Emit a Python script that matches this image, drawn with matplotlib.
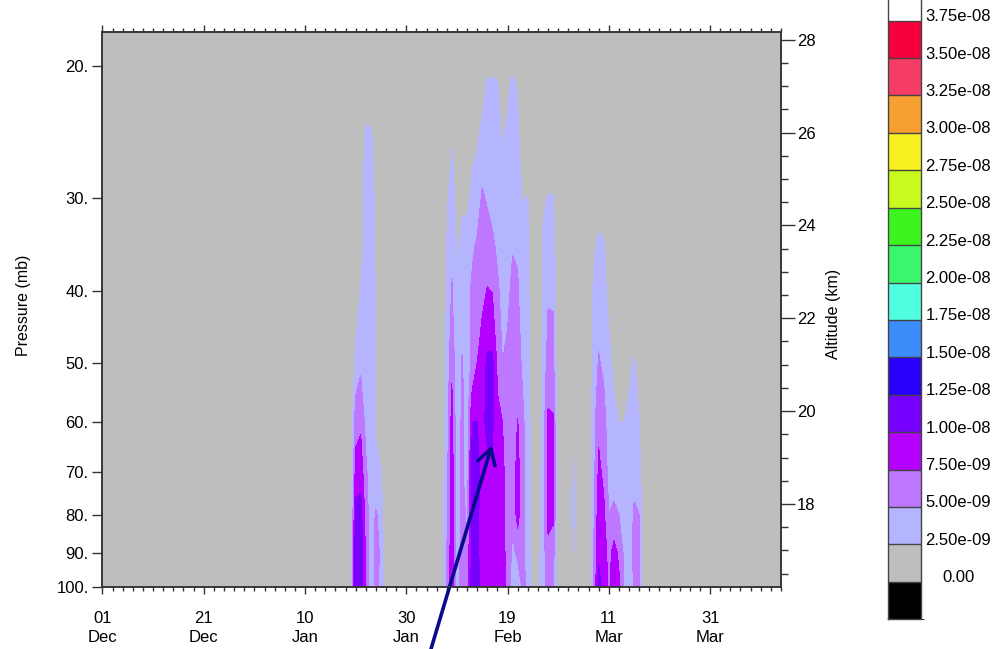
import numpy as np
import matplotlib
matplotlib.use('Agg')
import matplotlib.pyplot as plt
from matplotlib.colors import ListedColormap, BoundaryNorm
from matplotlib.ticker import FixedLocator, MultipleLocator, NullLocator
import matplotlib.transforms as mtransforms

plt.rcParams['font.family'] = ['Liberation Sans', 'DejaVu Sans']

# pressure levels (mb) for every profile below, surface side first
plev = [100, 90, 80, 70, 60, 50, 40, 35, 30, 25, 21, 18]

# values in units of 1e-9, one profile per day (days since 01 Dec)
jan_days = [50, 51, 52, 53, 54, 55]
jan_vals = [
    [11.5, 12, 11, 8.5, 6.5, 3.2, 1.0, 0.5, 0, 0, 0, 0],
    [12, 12, 11, 9, 7, 4.5, 2.6, 1.0, 1.0, 0.8, 0, 0],
    [7, 7, 6.5, 5.5, 4.2, 4, 4, 4, 3.8, 3.2, 0.5, 0],
    [2.5, 2.8, 3.5, 3.5, 3.6, 3.6, 3.6, 3.6, 3.5, 3.0, 0.5, 0],
    [5.5, 6, 5.3, 2.9, 2.3, 2.3, 2.3, 2.2, 2, 1, 0, 0],
    [4.5, 4.5, 4, 2.6, 1, 0, 0, 0, 0, 0, 0, 0],
]

feb_days = list(range(67, 94))
feb_vals = [
    [1.5, 1.5, 1.5, 1.2, 1, 0.8, 0.5, 0, 0, 0, 0, 0],
    [5.5, 5, 4.5, 4, 3.5, 3, 2.8, 2.6, 2, 1, 0, 0],
    [9, 9, 9, 9, 8.5, 7, 5.2, 4.5, 3.8, 2.3, 0, 0],
    [4, 3.5, 3, 3, 3, 3, 2.8, 2.2, 1.5, 0.5, 0, 0],
    [6, 6, 6, 5.5, 5.5, 5.2, 3.5, 3, 2.2, 0.5, 0, 0],
    [6, 5.5, 4.5, 3.5, 3.8, 4, 4, 3.5, 2.0, 1, 0, 0],
    [11.5, 11, 11, 10.5, 10, 5.5, 5.5, 4.5, 3.0, 2.0, 0, 0],
    [11, 10.5, 10.5, 10.5, 10, 7.5, 6.5, 5.5, 3.5, 2.2, 0.5, 0],
    [9, 9, 9, 9.5, 9.5, 8.5, 7, 6, 5.4, 3.2, 1.5, 0],
    [9, 9, 9, 9.5, 10.5, 10.5, 7.6, 6.5, 4.6, 3.5, 2.7, 0],
    [9, 9, 9, 9.5, 10.5, 10.5, 7.4, 5.6, 4.0, 3.5, 2.8, 0],
    [9, 8.5, 8.5, 8.5, 8, 7, 5.5, 4.5, 3.5, 3, 2.6, 0],
    [8.5, 8.5, 8, 8, 7.5, 5, 4, 3.5, 3, 2.4, 1, 0],
    [6.5, 6.5, 6.5, 6.5, 6.5, 5.5, 4.5, 3.8, 3.2, 2.8, 2.2, 0],
    [3.5, 4.5, 5.5, 6, 6, 6, 5.5, 4.9, 4, 3.2, 2.8, 0.5],
    [3.2, 5.5, 8.5, 8.5, 7.6, 6, 5.2, 4.8, 3.5, 3, 2.3, 0],
    [5.5, 5.5, 5.5, 5.5, 5.5, 4.5, 3.8, 3.5, 2.3, 1, 0, 0],
    [4.5, 4.2, 4, 3.8, 3.5, 3.2, 3, 2.8, 2.6, 0.5, 0, 0],
    [1.5, 1.5, 1.5, 1.5, 1.2, 1, 0.8, 0.5, 0, 0, 0, 0],
    [1.5, 1.5, 1.2, 1, 0.5, 0, 0, 0, 0, 0, 0, 0],
    [4, 4, 3.5, 3.5, 3.5, 3.2, 3, 2.8, 2.2, 0, 0, 0],
    [6, 6.5, 8.5, 8.5, 8, 6, 4.7, 4, 2.6, 0.5, 0, 0],
    [5.5, 6, 8, 8, 7.8, 5.8, 4.7, 3.8, 2.6, 0.5, 0, 0],
    [0.5, 0.5, 0.5, 0.5, 0.3, 0, 0, 0, 0, 0, 0, 0],
    [0, 0, 0, 0, 0, 0, 0, 0, 0, 0, 0, 0],
    [0, 1, 1.5, 1.5, 1, 0, 0, 0, 0, 0, 0, 0],
    [0, 2.6, 3.0, 2.8, 1.5, 0, 0, 0, 0, 0, 0, 0],
]

mar_days = list(range(97, 107))
mar_vals = [
    [5, 5, 4.5, 4, 4, 3.5, 3, 2, 0, 0, 0, 0],
    [11, 9.5, 9, 8, 7, 5.2, 4, 3.2, 1.0, 0, 0, 0],
    [9, 9, 8, 7, 6, 4.5, 3.5, 3.0, 0.5, 0, 0, 0],
    [7, 6.5, 5, 4, 3.5, 3.5, 1.5, 0.5, 0, 0, 0, 0],
    [9, 8.5, 5.5, 4, 3.5, 1.5, 0.5, 0, 0, 0, 0, 0],
    [8, 7, 5, 3.5, 2.5, 1, 0, 0, 0, 0, 0, 0],
    [4.5, 4.5, 3.5, 3, 2.5, 1.5, 0.5, 0, 0, 0, 0, 0],
    [2.3, 2.8, 3, 3.2, 3, 2.0, 0.3, 0, 0, 0, 0, 0],
    [5.5, 6, 5.5, 4, 3.5, 2.7, 0.3, 0, 0, 0, 0, 0],
    [5, 5.5, 5, 3.5, 2.6, 1.5, 0, 0, 0, 0, 0, 0],
]

# colour bar: black (<0), then 15 bands from 0 to 3.75e-08, white above
cbar_colors = ['#000000', '#bebebe', '#b4b4ff', '#be78ff', '#b400ff', '#7800ff',
               '#2800fa', '#3c8cfa', '#50ffe0', '#3cf56e', '#3cf51e', '#c8fa1e',
               '#f8f020', '#f5a030', '#f53c64', '#f5003c', '#ffffff']
cbar_ticks = [0, 2.5, 5, 7.5, 10, 12.5, 15, 17.5, 20, 22.5, 25, 27.5,
              30, 32.5, 35, 37.5]

xtick_days = [0, 20, 40, 60, 80, 100, 120]
xtick_labels = ['01\nDec', '21\nDec', '10\nJan', '30\nJan', '19\nFeb',
                '11\nMar', '31\nMar']
ptick = [20, 30, 40, 50, 60, 70, 80, 90, 100]
ztick = [18, 20, 22, 24, 26, 28]
zlim = (16.21, 28.16)
arrow_tip = (76.9, 64.5)   # day, mb

# build the grid
ndays = 135
days = np.arange(ndays)
field = np.zeros((len(plev), ndays))
for dd, vv in [(jan_days, jan_vals), (feb_days, feb_vals), (mar_days, mar_vals)]:
    for d, v in zip(dd, vv):
        field[:, d] = v
field = field[::-1] * 1e-9
pgrid = np.array(plev[::-1], dtype=float)

fs = 12
fig = plt.figure(figsize=(9.94, 6.49), dpi=100)
ax = fig.add_axes([0.1031, 0.0955, 0.6826, 0.8547])

levels = np.array(cbar_ticks) * 1e-9
ax.contourf(days, pgrid, field, levels=levels, colors=cbar_colors[1:-1])

ax.set_yscale('log')
ax.set_ylim(100, 18)
ax.set_xlim(0, 134)

ax.yaxis.set_major_locator(FixedLocator(ptick))
ax.yaxis.set_minor_locator(NullLocator())
ax.set_yticklabels(['%d.' % p for p in ptick])
ax.set_xticks(xtick_days)
ax.set_xticklabels(xtick_labels, linespacing=1.4)
ax.xaxis.set_minor_locator(MultipleLocator(2))

ax.tick_params(axis='y', which='major', direction='out', length=7, width=1,
               labelsize=fs, pad=3, color='#333333')
ax.tick_params(axis='x', which='both', direction='out', top=True, width=1,
               color='#333333')
ax.tick_params(axis='x', which='major', length=5, labelsize=fs, pad=12)
ax.tick_params(axis='x', which='minor', length=3)
for s in ax.spines.values():
    s.set_linewidth(1.1)
    s.set_color('#333333')

ax.set_ylabel('Pressure (mb)', fontsize=11.5)
ax.yaxis.set_label_coords(-0.106, 0.507)

ax2 = ax.twinx()
ax2.set_ylim(*zlim)
ax2.yaxis.set_major_locator(FixedLocator(ztick))
ax2.yaxis.set_minor_locator(MultipleLocator(0.5))
ax2.tick_params(axis='y', which='major', direction='out', length=10, width=1,
                labelsize=fs, pad=1.5, color='#333333')
ax2.tick_params(axis='y', which='minor', direction='out', length=5, width=1,
                color='#333333')
for s in ax2.spines.values():
    s.set_linewidth(1.1)
    s.set_color('#333333')
ax2.set_ylabel('Altitude (km)', fontsize=11.5)
ax2.yaxis.set_label_coords(1.0663, 0.492)

# colour bar
cax = fig.add_axes([0.8937, 0.0458, 0.0332, 0.980])
bounds = np.arange(-2.5, 40.01, 2.5) * 1e-9
cmap = ListedColormap(cbar_colors)
norm = BoundaryNorm(bounds, cmap.N)
sm = plt.cm.ScalarMappable(norm=norm, cmap=cmap)
cb = fig.colorbar(sm, cax=cax, ticks=levels, drawedges=True)
cb.outline.set_linewidth(1.0)
cb.outline.set_edgecolor('#444444')
cb.dividers.set_color('#444444')
cb.dividers.set_linewidth(1.0)
cb.set_ticklabels(['0.00' if t == 0 else '%.2e' % (t * 1e-9) for t in cbar_ticks])
cax.tick_params(length=0, labelsize=fs, pad=26.5)
offset = mtransforms.ScaledTranslation(0, 4 / 72, fig.dpi_scale_trans)
for lab in cax.get_yticklabels():
    lab.set_horizontalalignment('center')
    lab.set_transform(lab.get_transform() + offset)

# arrow pointing at the densest part of the February plume
ax.annotate('', xy=arrow_tip, xycoords='data',
            xytext=(431 / 994, 0.0), textcoords='figure fraction',
            arrowprops=dict(arrowstyle='->,head_length=0.55,head_width=0.32',
                            lw=2.6, color='#0a0a8c', shrinkA=0, shrinkB=0,
                            mutation_scale=20),
            annotation_clip=False)

fig.savefig('out.png', dpi=100)
